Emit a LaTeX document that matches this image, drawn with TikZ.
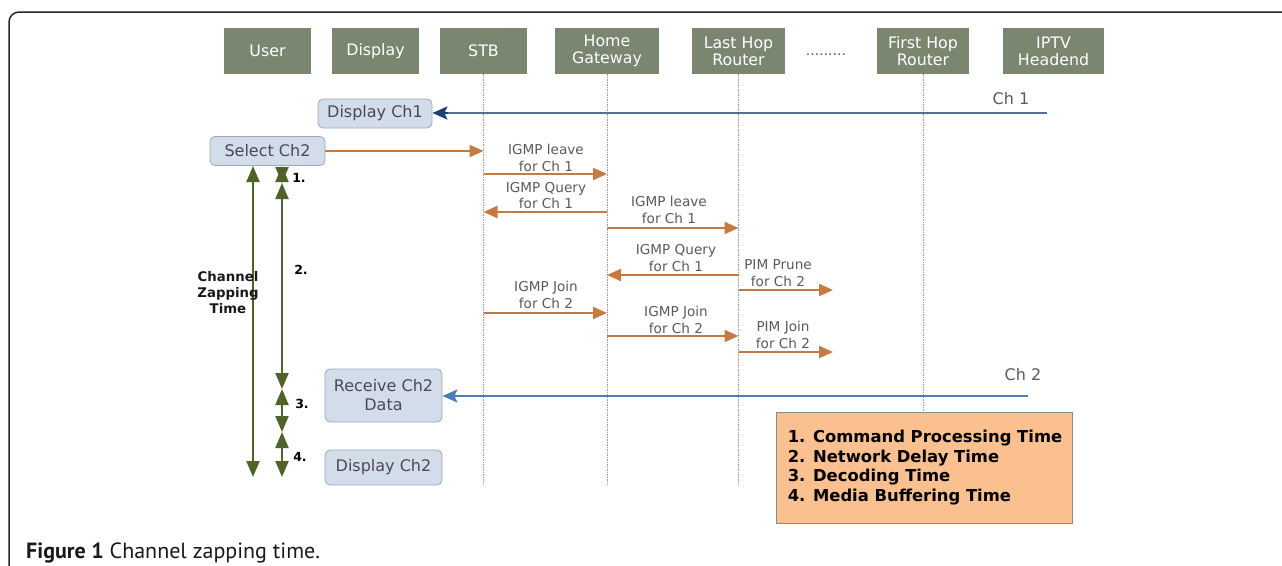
\documentclass[tikz,border=0pt]{standalone}
\usepackage{fontspec}
\setmainfont{DejaVu Sans}
\newfontfamily\capfont{PT Sans}
\usetikzlibrary{arrows.meta}
\definecolor{hdrfill}{HTML}{7B8670}
\definecolor{boxfill}{HTML}{D3DCE9}
\definecolor{boxdraw}{HTML}{9AA8BE}
\definecolor{boxtext}{HTML}{4A4A55}
\definecolor{msgorange}{HTML}{C47B42}
\definecolor{msgtext}{HTML}{5A5A5A}
\definecolor{zapgreen}{HTML}{4F6228}
\definecolor{chonel}{HTML}{53708F}
\definecolor{chonehead}{HTML}{1F3F6E}
\definecolor{chtwo}{HTML}{4A7EBB}
\definecolor{legfill}{HTML}{FAC090}
\definecolor{legdraw}{HTML}{8C8C8C}
\definecolor{lifegray}{HTML}{9A9A9A}
\tikzset{
  hdr/.style={fill=hdrfill, draw=none, text=white, minimum height=46pt, inner sep=0pt,
    align=center, font=\fontsize{15.8}{17}\selectfont},
  evbox/.style={fill=boxfill, draw=boxdraw, line width=0.8pt, rounded corners=5pt,
    text=boxtext, inner sep=0pt, align=center, font=\fontsize{16}{19}\selectfont},
  life/.style={draw=lifegray, line width=0.7pt, dash pattern=on 1.5pt off 1pt},
  msg/.style={draw=msgorange, line width=2.2pt, -{Triangle[length=14pt,width=12pt]}},
  msglabel/.style={text=msgtext, align=center, inner sep=0pt, font=\fontsize{13.6}{16.5}\selectfont},
  garrow/.style={draw=zapgreen, line width=2.2pt,
    {Triangle[length=16pt,width=13pt]}-{Triangle[length=16pt,width=13pt]}},
  numlab/.style={font=\bfseries\fontsize{12.5}{14}\selectfont, inner sep=0pt},
  chlabel/.style={text=msgtext, inner sep=0pt, font=\fontsize{16}{19}\selectfont}
}
\begin{document}
\begin{tikzpicture}[x=1pt,y=-1pt]
\useasboundingbox (0,0) rectangle (1282,565);
\fill[white] (0,0) rectangle (1282,565);
% frame
\draw[line width=1.5pt, draw=black!85, rounded corners=10pt] (9,570) -- (9,12) -- (1290,12);

% header boxes
\node[hdr, minimum width=87pt] (user) at (267.5,51) {User};
\node[hdr, minimum width=87pt] (disp) at (375.5,51) {Display};
\node[hdr, minimum width=87pt] (stb) at (483.5,51) {STB};
\node[hdr, minimum width=104pt] (hg) at (607,51) {Home\\Gateway};
\node[hdr, minimum width=93pt] (lh) at (738.5,51) {Last Hop\\Router};
\node[text=msgtext, inner sep=0pt, font=\fontsize{14}{16}\selectfont] (dots) at (826,55) {.........};
\node[hdr, minimum width=92pt] (fh) at (923,51) {First Hop\\Router};
\node[hdr, minimum width=101pt] (iptv) at (1053.5,51) {IPTV\\Headend};

% legend
\node[fill=legfill, draw=legdraw, line width=0.8pt, minimum width=296pt, minimum height=111pt,
  inner sep=0pt] (legend) at (924,467.5) {};
\node[anchor=west, inner sep=0pt, align=left,
  font=\bfseries\fontsize{16.4}{19.5}\selectfont] (legtext) at ([xshift=12pt]legend.west)
  {1. Command Processing Time\\2. Network Delay Time\\3. Decoding Time\\4. Media Buffering Time};

% lifelines
\coordinate (stbend) at (stb.south |- 0,485);
\coordinate (hgend) at (hg.south |- 0,485);
\coordinate (lhend) at (lh.south |- 0,485);
\draw[life] (stb.south) -- (stbend);
\draw[life] (hg.south) -- (hgend);
\draw[life] (lh.south) -- (lhend);
\draw[life] (fh.south) -- (fh.south |- legend.north);

% event boxes
\node[evbox, minimum width=114pt, minimum height=29pt] (dch1) at (375,113.5) {Display Ch1};
\node[evbox, minimum width=115pt, minimum height=29pt] (sel) at (267.5,151) {Select Ch2};
\node[evbox, minimum width=117pt, minimum height=53pt] (recv) at (383.5,395.5) {Receive Ch2\\Data};
\node[evbox, minimum width=117pt, minimum height=35pt] (dch2) at (383.5,467.5) {Display Ch2};

% channel streams
\coordinate (ch1src) at (1047,113);
\coordinate (ch2src) at (1028,396);
\draw[draw=chonel, line width=2.2pt] (ch1src) -- ([xshift=14pt]dch1.east |- ch1src);
\draw[draw=chonehead, line width=2.2pt, -{Stealth[length=15pt,width=13pt,inset=3pt]}]
  ([xshift=16pt]dch1.east |- ch1src) -- (dch1.east |- ch1src);
\node[chlabel] (ch1lab) at (1011,99) {Ch 1};
\draw[draw=chtwo, line width=2.2pt, -{Stealth[length=15pt,width=13pt,inset=3pt]}] (ch2src) -- (recv.east |- ch2src);
\node[chlabel] (ch2lab) at (1023,375) {Ch 2};

% messages
\draw[msg] (sel.east) -- (stb.south |- sel.east);
\coordinate (pimend) at (833,0);

\node[msglabel] (l1) at (546,158) {IGMP leave\\for Ch 1};
\draw[msg] (stb.south |- 0,174) -- (hg.south |- 0,174);
\node[msglabel] (l2) at (546,195.5) {IGMP Query\\for Ch 1};
\draw[msg] (hg.south |- 0,212) -- (stb.south |- 0,212);
\node[msglabel] (l3) at (669,210) {IGMP leave\\for Ch 1};
\draw[msg] (hg.south |- 0,228) -- (lh.south |- 0,228);
\node[msglabel] (l4) at (676,258) {IGMP Query\\for Ch 1};
\draw[msg] (lh.south |- 0,275) -- (hg.south |- 0,275);
\node[msglabel] (l5) at (778,273) {PIM Prune\\for Ch 2};
\draw[msg] (lh.south |- 0,290) -- (pimend |- 0,290);
\node[msglabel] (l6) at (546,295) {IGMP Join\\for Ch 2};
\draw[msg] (stb.south |- 0,313) -- (hg.south |- 0,313);
\node[msglabel] (l7) at (676,320) {IGMP Join\\for Ch 2};
\draw[msg] (hg.south |- 0,336) -- (lh.south |- 0,336);
\node[msglabel] (l8) at (783,335) {PIM Join\\for Ch 2};
\draw[msg] (lh.south |- 0,352) -- (pimend |- 0,352);

% zapping time arrows
\coordinate (za) at (253,166);
\coordinate (zb) at (253,477);
\draw[garrow] (za) -- (zb);
\coordinate (s0) at (282,166);
\coordinate (s1) at (282,183);
\coordinate (s2) at (282,389);
\coordinate (s3) at (282,432);
\coordinate (s4) at (282,477);
\draw[garrow] (s0) -- (s1);
\draw[garrow] (s1) -- (s2);
\draw[garrow] (s2) -- (s3);
\draw[garrow] (s3) -- (s4);
\node[numlab] (n1) at (299,178) {1.};
\node[numlab] (n2) at (301,270) {2.};
\node[numlab] (n3) at (302,404) {3.};
\node[numlab] (n4) at (300,457) {4.};
\node[font=\bfseries\fontsize{13.3}{16}\selectfont, align=center, inner sep=0pt, text=black!90] (zap) at (228,293)
  {Channel\\Zapping\\Time};

% caption
\node[anchor=base west, inner sep=0pt, font=\capfont\fontsize{22}{24}\selectfont, text=black!90] (cap) at (26,558)
  {\textbf{Figure 1} Channel zapping time.};
\end{tikzpicture}
\end{document}
